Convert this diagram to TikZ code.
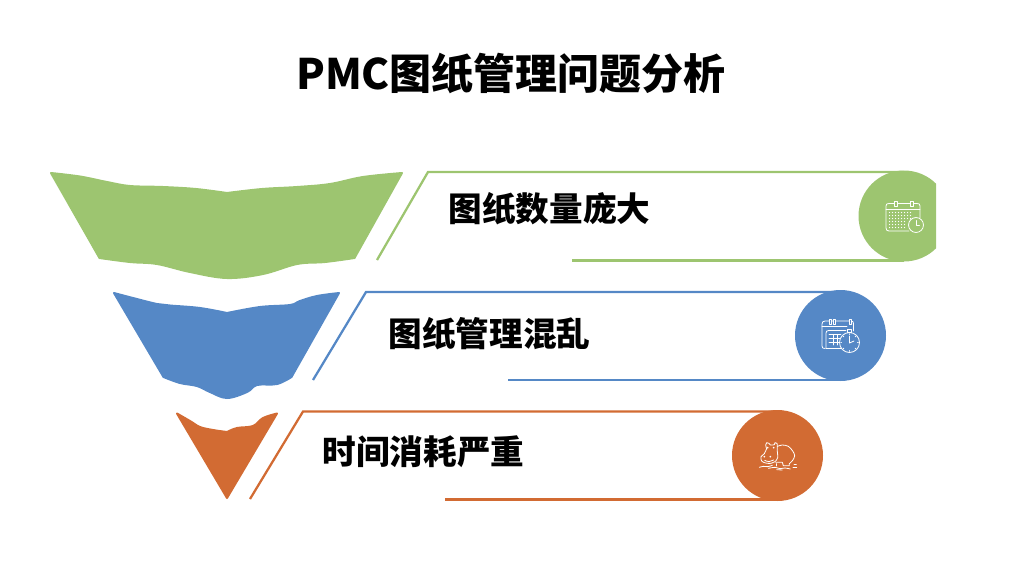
\documentclass[tikz,border=0pt]{standalone}
\usepackage{fontspec}
\setmainfont{Noto Sans CJK SC}
\definecolor{cgreen}{HTML}{9DC570}
\definecolor{cblue}{HTML}{5588C6}
\definecolor{corange}{HTML}{D26B33}
\tikzset{
  titletext/.style={font=\fontsize{31.5}{36}\selectfont\bfseries,text=black,inner sep=0pt},
  labeltext/.style={font=\fontsize{25.2}{30}\selectfont\bfseries,text=black,inner sep=0pt,anchor=west},
  funnel/.style={fill=#1,draw=#1,line width=1.5pt,line join=round},
  bracket/.style={draw=#1,line width=1.7pt,line join=miter},
  iconline/.style={draw=white,line width=.6pt,line cap=round,line join=round},
}
\begin{document}
\begin{tikzpicture}[x=.75pt,y=-.75pt]
\useasboundingbox (0,0) rectangle (1024,575);
\node[titletext] (title) at (511,73) {PMC图纸管理问题分析};

% funnels
\path[funnel=cgreen] plot[smooth,tension=.6] coordinates {(51,173) (80,176.5) (107,182) (130,186) (163,187) (196,189) (227,193)}
  -- plot[smooth,tension=.6] coordinates {(227,193) (262,189) (297,187) (330,184) (363,177) (402,173)}
  -- plot[smooth,tension=.6] coordinates {(354.5,258) (325,262) (297,264) (263,274) (227,278) (190,272) (157,264) (130,262) (99.5,258)} -- cycle;
\path[funnel=cblue] plot[smooth,tension=.6] coordinates {(114,293) (133,298) (157,304) (170,305.5) (200,308) (227,313)}
  -- plot[smooth,tension=.6] coordinates {(227,313) (260,307) (290,305) (300,301) (317,296) (339,293)}
  -- plot[smooth,tension=.6] coordinates {(291.5,377) (277,384) (257,385) (247,392) (227,398) (210,392) (197,386) (180,383) (163.5,377)} -- cycle;
\path[funnel=corange] plot[smooth,tension=.6] coordinates {(177,413.5) (190,421) (200,427) (213,430) (227,432)}
  -- plot[smooth,tension=.6] coordinates {(227,432) (237,428) (253,426) (263,418) (277,413.5)}
  -- (227,498) -- cycle;

% brackets
\coordinate (g1) at (377,260); \coordinate (g2) at (428,172); \coordinate (g3) at (904,172); \coordinate (g4) at (572,260.5); \coordinate (g5) at (904,260.5);
\draw[bracket=cgreen] (g1) -- (g2) -- (g3);
\draw[bracket=cgreen] (g4) -- (g5);
\coordinate (b1) at (313,380); \coordinate (b2) at (366,292); \coordinate (b3) at (840,292); \coordinate (b4) at (508,380); \coordinate (b5) at (840,380);
\draw[bracket=cblue] (b1) -- (b2) -- (b3);
\draw[bracket=cblue] (b4) -- (b5);
\coordinate (o1) at (250,499); \coordinate (o2) at (303,411.5); \coordinate (o3) at (778,411.5); \coordinate (o4) at (445,499.5); \coordinate (o5) at (778,499.5);
\draw[bracket=corange] (o1) -- (o2) -- (o3);
\draw[bracket=corange] (o4) -- (o5);

% discs
\begin{scope}
\clip (850,160) rectangle (936,270);
\fill[cgreen] (904,216) circle[radius=45.5*.75pt];
\end{scope}
\fill[cblue] (840.5,335.5) circle[radius=45.5*.75pt];
\fill[corange] (777.5,455.5) circle[radius=45.5*.75pt];

% labels
\node[labeltext] (l1) at (448.5,209) {图纸数量庞大};
\node[labeltext] (l2) at (388.5,334) {图纸管理混乱};
\node[labeltext] (l3) at (322.5,452) {时间消耗严重};

% icon: calendar with clock (green)
\begin{scope}[iconline]
\draw (920,218) -- (920,206) .. controls (920,204) and (919,203.5) .. (917,203.5) -- (889,203.5) .. controls (887,203.5) and (886,204) .. (886,206) -- (886,228) .. controls (886,230) and (887,231) .. (889,231) -- (909,231);
\draw (886,209.5) -- (920,209.5);
\draw[fill=cgreen] (894.5,201) rectangle (897.5,206.5);
\draw[fill=cgreen] (910.5,201) rectangle (913.5,206.5);
\foreach \yy in {212.5,215.5,218.5,221.5,224.5,227.5}
  \foreach \xx in {889.5,892.5,895.5,898.5,901.5,904.5,907.5,910.5}
    {\ifdim\xx pt>906pt\ifdim\yy pt>219pt\else\fill[white] (\xx,\yy) circle[radius=.55pt];\fi\else\fill[white] (\xx,\yy) circle[radius=.55pt];\fi}
\draw (916,225) circle[radius=5.6pt];
\draw (916,220.5) -- (916,225) -- (919.5,225);
\end{scope}

% icon: calendar with stopwatch (blue)
\begin{scope}[iconline]
\draw (825,348.5) .. controls (823,348.5) and (822,348) .. (822,346) -- (822,324) .. controls (822,322) and (823,321) .. (825,321) -- (851,321) .. controls (853,321) and (853.5,322) .. (853.5,324) -- (853.5,331);
\draw (826,348.5) -- (842,348.5);
\draw (826,348.5) -- (826,333) .. controls (826,331.5) and (827,330.5) .. (828.5,330.5) -- (846,330.5);
\draw (822,326.5) -- (847,326.5);
\draw[fill=cblue] (829,319) rectangle (831.5,324);
\draw[fill=cblue] (833,319) rectangle (835.5,324);
\draw[fill=cblue] (849,319) rectangle (851.5,324);
\foreach \yy in {334.5,338.5,342.5}
  \draw (829,\yy) -- (841,\yy);
\foreach \xx in {833,837}
  \draw (\xx,334.5) -- (\xx,345);
\draw[fill=cblue] (849.5,342.5) circle[radius=7.5pt];
\draw (847.5,329.5) rectangle (851.5,332.5);
\draw (849.5,336) -- (849.5,343) -- (854,341);
\foreach \a in {0,45,...,315}
  \draw (849.5,342.5) ++(\a:6pt) -- ++(\a:.6pt);
\end{scope}

% icon: hippo (orange)
\begin{scope}[shift={(725,405)},x=.25pt,y=-.25pt,iconline]
\draw plot[smooth,tension=.55] coordinates {(125,132) (122,120) (125,113) (132,115) (136,120) (148,119) (150,113) (156,115) (157,124)};
\draw plot[smooth,tension=.55] coordinates {(125,130) (118,146) (108,155) (110,168) (122,174) (138,175) (150,170) (158,158) (157,140) (157,124)};
\draw plot[smooth,tension=.55] coordinates {(157,124) (172,120) (190,124) (203,138) (209,152) (203,166) (193,176)};
\draw (193,176) -- (193,182) -- (175,182) -- (172,172) -- (152,172);
\draw (155,176) -- (155,183);
\fill[white] (118,155) circle[radius=.7pt];
\fill[white] (136,155) circle[radius=.7pt];
\fill[white] (128,128) circle[radius=.7pt];
\fill[white] (146,128) circle[radius=.7pt];
\draw (119,166) .. controls (128,171) and (138,171) .. (146,165);
\draw plot[smooth,tension=.6] coordinates {(103,187) (115,184) (128,185) (142,181)};
\draw plot[smooth,tension=.6] coordinates {(130,190) (150,187) (165,191) (180,189) (196,192)};
\draw (155,194) -- (172,195);
\draw (207,177) -- (214,177);
\draw (204,188) -- (215,188);
\end{scope}
\end{tikzpicture}
\end{document}
